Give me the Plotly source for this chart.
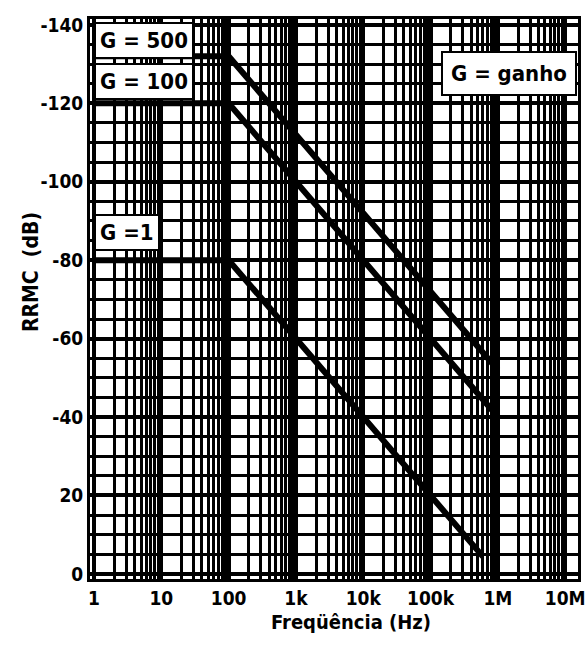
import plotly.graph_objects as go

# Data
freq_g500 = [1, 100, 1e6]
cmrr_g500 = [132, 132, 52]
freq_g100 = [1, 100, 1e6]
cmrr_g100 = [120, 120, 40]
freq_g1 = [1, 100, 6e5]
cmrr_g1 = [80, 80, 4.4]

x_tickvals = [1, 10, 100, 1e3, 1e4, 1e5, 1e6, 1e7]
x_ticktext = ["1", "10", "100", "1k", "10k", "100k", "1M", "10M"]
y_tickvals = [0, 20, 40, 60, 80, 100, 120, 140]
y_ticktext = ["0", "20", "-40", "-60", "-80", "-100", "-120", "-140"]

FONT = "DejaVu Sans Condensed, Liberation Sans Narrow, Arial Narrow, sans-serif"

fig = go.Figure()
for fx, fy in [(freq_g500, cmrr_g500), (freq_g100, cmrr_g100), (freq_g1, cmrr_g1)]:
    fig.add_trace(go.Scatter(x=fx, y=fy, mode="lines",
                             line=dict(color="black", width=6), showlegend=False))

def box(text, x, y, xanchor="left", pad=4):
    fig.add_annotation(x=x, y=y, xref="x", yref="y", text="<b>" + text + "</b>",
                       showarrow=False, xanchor=xanchor, yanchor="middle",
                       font=dict(family=FONT, size=22, color="black"),
                       bgcolor="white", bordercolor="black", borderwidth=2, borderpad=pad)

box("G = 500", 0.0, 136)
box("G = 100", 0.0, 125.5)
box("G =1", 0.0, 87)
box("G = ganho", 7.17, 127.5, xanchor="right", pad=8)

# axis titles placed as paper annotations (offset like the scan)
fig.add_annotation(x=0.535, y=-0.077, xref="paper", yref="paper", text="<b>Freqüência (Hz)</b>",
                   showarrow=False, xanchor="center", yanchor="middle",
                   font=dict(family=FONT, size=20, color="black"))
fig.add_annotation(x=-0.121, y=0.548, xref="paper", yref="paper", text="<b>RRMC  (dB)</b>",
                   showarrow=False, xanchor="center", yanchor="middle", textangle=-90,
                   font=dict(family=FONT, size=21, color="black"))

fig.update_xaxes(type="log", range=[-0.06, 7.19], automargin=False,
                 tickvals=x_tickvals, ticktext=x_ticktext,
                 tickfont=dict(family=FONT, size=19, color="black", weight="bold"),
                 ticklabeloverflow="allow",
                 showgrid=True, gridcolor="black", gridwidth=4,
                 minor=dict(dtick="D1", showgrid=True, gridcolor="black", gridwidth=3),
                 showline=True, linecolor="black", linewidth=3, mirror=True,
                 ticks="", ticklen=0)
fig.update_yaxes(range=[-1.3, 141.5], automargin=False,
                 tickvals=y_tickvals, ticktext=y_ticktext,
                 tickfont=dict(family=FONT, size=19, color="black", weight="bold"),
                 showgrid=True, gridcolor="black", gridwidth=4,
                 minor=dict(dtick=5, tick0=0, showgrid=True, gridcolor="black", gridwidth=3),
                 showline=True, linecolor="black", linewidth=3, mirror=True,
                 ticks="", zeroline=False)

fig.update_layout(width=587, height=646, margin=dict(l=90, r=9, t=19, b=67),
                  paper_bgcolor="white", plot_bgcolor="white")

# remove the default 8px page margin so the figure fills the 587x646 window exactly
fig.write_html("out.html", config={"displayModeBar": False},
               post_script="document.body.style.margin='0';document.body.style.overflow='hidden';")
